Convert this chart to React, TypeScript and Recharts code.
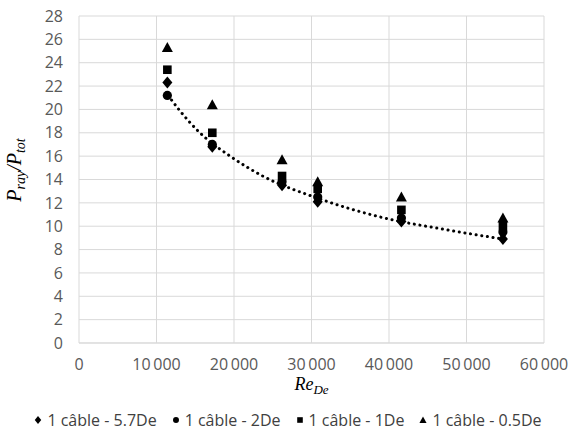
import {
  CartesianGrid,
  ComposedChart,
  Legend,
  Line,
  Scatter,
  XAxis,
  YAxis,
} from "recharts";

const reDe = [11400, 17200, 26200, 30800, 41600, 54700];
const cable57 = [22.3, 16.8, 13.5, 12.1, 10.4, 8.9];
const cable2 = [21.2, 17.0, 13.8, 12.5, 10.7, 9.5];
const cable1 = [23.4, 18.0, 14.3, 13.2, 11.4, 10.0];
const cable05 = [25.3, 20.4, 15.7, 13.8, 12.5, 10.7];

// dotted trend line
const trendRe = [11500, 13000, 15600, 19500, 23700, 30800, 38800, 47400, 54700];
const trendVal = [21.2, 19.9, 18.0, 16.0, 14.3, 12.4, 10.8, 9.7, 8.9];

const xTicks = [0, 10000, 20000, 30000, 40000, 50000, 60000];
const yTicks = [0, 2, 4, 6, 8, 10, 12, 14, 16, 18, 20, 22, 24, 26, 28];

const seriesNames = [
  "1 câble - 5.7De",
  "1 câble - 2De",
  "1 câble - 1De",
  "1 câble - 0.5De",
];

const toPoints = (vals: number[]) => reDe.map((x, i) => ({ x, y: vals[i] }));
const trend = trendRe.map((x, i) => ({ x, y: trendVal[i] }));

const fmt = (v: number) =>
  v >= 1000 ? `${Math.floor(v / 1000)}\u2009${String(v % 1000).padStart(3, "0")}` : `${v}`;

type MarkProps = { cx?: number; cy?: number; s?: number };

const DiamondMark = ({ cx = 0, cy = 0, s = 1 }: MarkProps) => (
  <polygon
    points={`${cx},${cy - 6 * s} ${cx + 5 * s},${cy} ${cx},${cy + 6 * s} ${cx - 5 * s},${cy}`}
    fill="#000"
  />
);
const CircleMark = ({ cx = 0, cy = 0, s = 1 }: MarkProps) => (
  <circle cx={cx} cy={cy} r={4.6 * s} fill="#000" />
);
const SquareMark = ({ cx = 0, cy = 0, s = 1 }: MarkProps) => (
  <rect x={cx - 4.3 * s} y={cy - 4.3 * s} width={8.6 * s} height={8.6 * s} fill="#000" />
);
const TriangleMark = ({ cx = 0, cy = 0, s = 1 }: MarkProps) => (
  <polygon
    points={`${cx},${cy - 5.5 * s} ${cx + 5.5 * s},${cy + 4.5 * s} ${cx - 5.5 * s},${cy + 4.5 * s}`}
    fill="#000"
  />
);

const marks = [DiamondMark, CircleMark, SquareMark, TriangleMark];

const tickStyle = { fill: "#595959", fontSize: 16, fontFamily: "Open Sans" };

function LegendContent() {
  return (
    <div
      style={{
        display: "flex",
        justifyContent: "center",
        alignItems: "center",
        height: 24,
        fontFamily: "Open Sans",
        fontSize: 16,
        color: "#404040",
        gap: 14,
        paddingLeft: 31,
      }}
    >
      {seriesNames.map((name, i) => {
        const M = marks[i];
        return (
          <span key={name} style={{ display: "flex", alignItems: "center" }}>
            <svg width={10} height={12} style={{ marginRight: 4 }}>
              <M cx={5} cy={6} s={0.65} />
            </svg>
            {name}
          </span>
        );
      })}
    </div>
  );
}

export default function App() {
  const series = [cable57, cable2, cable1, cable05];
  return (
    <div style={{ position: "absolute", left: 0, top: 0, background: "#fff" }}>
      <ComposedChart
        width={575}
        height={437}
        margin={{ top: 16, right: 31, left: 0, bottom: 5 }}
      >
        <CartesianGrid stroke="#d9d9d9" />
        <XAxis
          type="number"
          dataKey="x"
          domain={[0, 60000]}
          ticks={xTicks}
          tickFormatter={fmt}
          tick={tickStyle}
          tickLine={false}
          tickSize={0}
          tickMargin={16}
          axisLine={{ stroke: "#d9d9d9" }}
          height={65}
          label={{
            content: (p: any) => {
              const vb = p.viewBox || {};
              const cx = vb.x + vb.width / 2;
              return (
                <text
                  x={cx}
                  y={vb.y + 47}
                  textAnchor="middle"
                  fontFamily="Liberation Serif"
                  fontStyle="italic"
                  fontSize={18}
                  fill="#000"
                >
                  Re
                  <tspan fontSize={13} dy={4}>
                    De
                  </tspan>
                </text>
              );
            },
          }}
        />
        <YAxis
          type="number"
          dataKey="y"
          domain={[0, 28]}
          ticks={yTicks}
          tick={tickStyle}
          tickLine={false}
          tickSize={0}
          tickMargin={16}
          axisLine={false}
          width={79}
          label={{
            content: () => (
              <text
                transform="translate(21,170) rotate(-90)"
                textAnchor="middle"
                fontFamily="Liberation Serif"
                fontStyle="italic"
                fontSize={20}
                fill="#000"
              >
                P
                <tspan fontSize={14} dy={4}>
                  ray
                </tspan>
                <tspan fontSize={20} dy={-4}>
                  /P
                </tspan>
                <tspan fontSize={14} dy={4}>
                  tot
                </tspan>
              </text>
            ),
          }}
        />
        <Legend verticalAlign="bottom" content={() => <LegendContent />} />
        <Line
          data={trend}
          dataKey="y"
          type="monotone"
          stroke="#000"
          strokeWidth={3}
          strokeDasharray="0.1 5.6"
          strokeLinecap="round"
          dot={false}
          activeDot={false}
          legendType="none"
          isAnimationActive={false}
        />
        {series.map((vals, i) => {
          const M = marks[i];
          return (
            <Scatter
              key={seriesNames[i]}
              name={seriesNames[i]}
              data={toPoints(vals)}
              dataKey="y"
              shape={(p: any) => <M cx={p.cx} cy={p.cy} />}
              isAnimationActive={false}
            />
          );
        })}
      </ComposedChart>
    </div>
  );
}
